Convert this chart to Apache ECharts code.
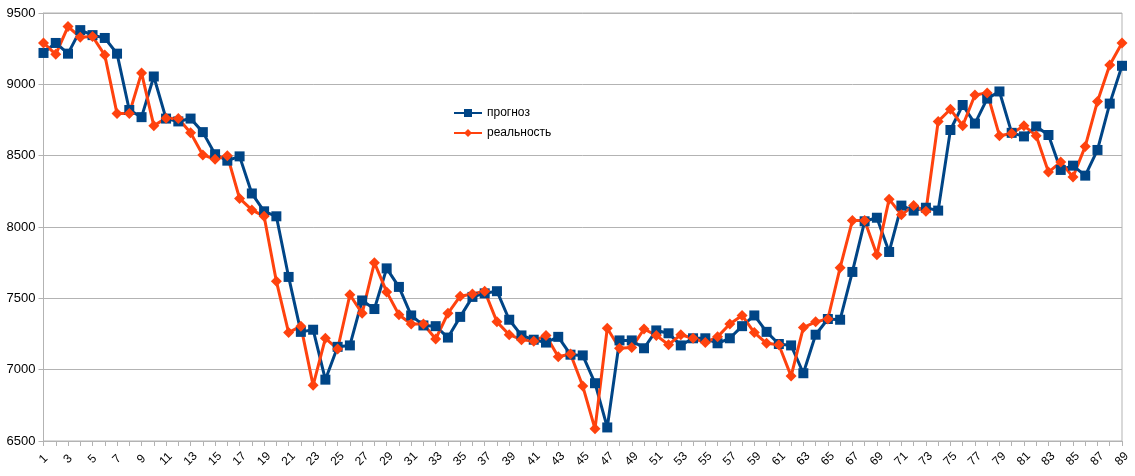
<!DOCTYPE html>
<html>
<head>
<meta charset="utf-8">
<script src="https://cdn.jsdelivr.net/npm/echarts@6/dist/echarts.min.js"></script>
<style>
html,body{margin:0;padding:0;background:#fff;}
#c{width:1135px;height:476px;}
</style>
</head>
<body>
<div id="c"></div>
<script>
const categories = Array.from({length: 89}, (_, i) => String(i + 1));
const forecast = [
  9220, 9290, 9215, 9380, 9345, 9325, 9215, 8820, 8770, 9055,
  8760, 8740, 8760, 8665, 8510, 8465, 8495, 8235, 8110, 8075,
  7650, 7265, 7280, 6930, 7160, 7170, 7485, 7425, 7710, 7580,
  7380, 7310, 7305, 7225, 7370, 7510, 7535, 7550, 7350, 7240,
  7210, 7190, 7230, 7105, 7100, 6905, 6595, 7205, 7205, 7150,
  7275, 7255, 7170, 7220, 7220, 7185, 7220, 7305, 7380, 7265,
  7180, 7170, 6975, 7245, 7355, 7350, 7685, 8040, 8065, 7825,
  8150, 8115, 8135, 8115, 8680, 8855, 8725, 8900, 8950, 8660,
  8635, 8705, 8645, 8400, 8430, 8360, 8540, 8865, 9130
];
const reality = [
  9290, 9210, 9405, 9330, 9335, 9205, 8795, 8795, 9080, 8710,
  8763, 8760, 8660, 8505, 8475, 8500, 8200, 8120, 8075, 7620,
  7260, 7305, 6890, 7220, 7145, 7525, 7395, 7750, 7545, 7385,
  7320, 7320, 7215, 7395, 7515, 7530, 7550, 7335, 7245, 7210,
  7200, 7240, 7090, 7110, 6885, 6585, 7290, 7150, 7155, 7285,
  7240, 7175, 7245, 7220, 7190, 7230, 7320, 7380, 7260, 7185,
  7175, 6955, 7295, 7335, 7355, 7715, 8045, 8045, 7805, 8195,
  8085, 8150, 8110, 8740, 8825, 8710, 8925, 8940, 8640, 8655,
  8710, 8640, 8385, 8455, 8350, 8565, 8880, 9135, 9290
];
const seriesNames = ['прогноз', 'реальность'];
const yTicks = { min: 6500, max: 9500, interval: 500 };

const chart = echarts.init(document.getElementById('c'), null, {renderer: 'canvas'});
const font = 'Liberation Sans, Arial, sans-serif';
chart.setOption({
  animation: false,
  backgroundColor: '#ffffff',
  textStyle: { fontFamily: font },
  grid: {
    left: 43.5, right: 13, top: 13, bottom: 35,
    show: true, borderColor: '#b3b3b3', borderWidth: 1, backgroundColor: 'transparent'
  },
  legend: {
    orient: 'vertical',
    left: 448, top: 102,
    itemWidth: 28, itemHeight: 10, itemGap: 8,
    textStyle: { fontFamily: font, fontSize: 12, color: '#000' },
    data: seriesNames
  },
  xAxis: {
    type: 'category',
    data: categories,
    boundaryGap: false,
    axisLine: { lineStyle: { color: '#b3b3b3', width: 1 } },
    axisTick: { show: true, interval: 0, length: 5, lineStyle: { color: '#b3b3b3' } },
    axisLabel: { interval: 1, rotate: 45, fontSize: 12, color: '#000', fontFamily: font,
                 margin: 18, align: 'center', verticalAlign: 'middle' },
    splitLine: { show: false }
  },
  yAxis: {
    type: 'value',
    min: yTicks.min, max: yTicks.max, interval: yTicks.interval,
    axisLine: { show: true, lineStyle: { color: '#b3b3b3', width: 1 } },
    axisTick: { show: true, length: 5, lineStyle: { color: '#b3b3b3' } },
    axisLabel: { fontSize: 13, color: '#000', fontFamily: font, margin: 8, formatter: v => String(v) },
    splitLine: { lineStyle: { color: '#b3b3b3', width: 1 } }
  },
  series: [
    {
      name: seriesNames[0], type: 'line', data: forecast,
      symbol: 'rect', symbolSize: 10, showAllSymbol: true,
      itemStyle: { color: '#004586' },
      lineStyle: { color: '#004586', width: 3 }
    },
    {
      name: seriesNames[1], type: 'line', data: reality,
      symbol: 'diamond', symbolSize: 11, showAllSymbol: true,
      itemStyle: { color: '#ff420e' },
      lineStyle: { color: '#ff420e', width: 3 }
    }
  ]
});
</script>
</body>
</html>
